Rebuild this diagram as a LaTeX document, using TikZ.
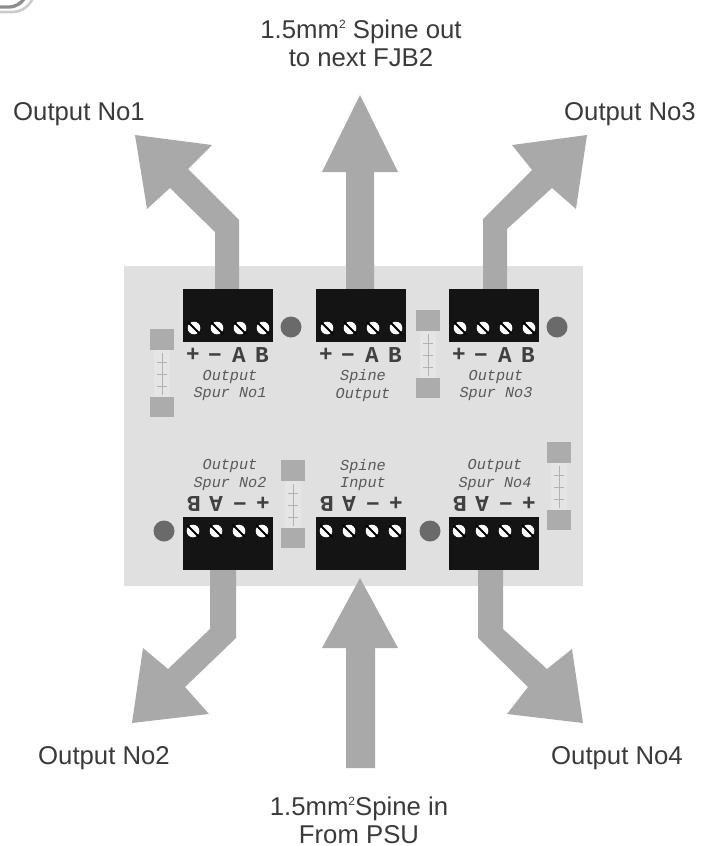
\documentclass[tikz,border=0pt]{standalone}
\usepackage{fontspec}
\setmainfont{Liberation Sans}
\setmonofont{Liberation Mono}
\definecolor{boardc}{HTML}{E0E0E0}
\definecolor{arrowc}{HTML}{A9A9A9}
\definecolor{capc}{HTML}{ACACAC}
\definecolor{dotc}{HTML}{6A6A6A}
\definecolor{txtc}{HTML}{3A3A3A}
\tikzset{
  flow/.style={fill=arrowc,draw=none},
  board/.style={fill=boardc,draw=none},
  block/.style={fill=black!92,draw=none},
  lbl/.style={font=\fontsize{19.3pt}{21pt}\selectfont,text=txtc,align=center,inner sep=0pt},
  term/.style={font=\ttfamily\bfseries\fontsize{17pt}{17pt}\selectfont,text=black!75,inner sep=0pt},
  small/.style={font=\ttfamily\itshape\fontsize{11.4pt}{13pt}\selectfont,text=black!65,align=center,inner sep=0pt},
}
\newcommand{\blockat}[2]{%
  \fill[block] (#1,#2) rectangle (#1+90,#2+53);
}
\newcommand{\screws}[2]{%
  \foreach \k in {0,1,2,3}{
    \fill[white] ({#1+\k*23},#2) circle (6.3);
    \draw[black,line width=1.5pt] ({#1+\k*23-6},{#2-6}) -- ({#1+\k*23+6},{#2+6});
  }
}
\newcommand{\fuse}[2]{%
  \fill[white!90!black] (#1+4,#2+20) rectangle (#1+20,#2+70);
  \draw[black!30,line width=.6pt] (#1+7,#2+33) -- (#1+17,#2+33) (#1+7,#2+45) -- (#1+17,#2+45) (#1+7,#2+57) -- (#1+17,#2+57) (#1+12,#2+24) -- (#1+12,#2+66);
  \fill[capc] (#1,#2) rectangle (#1+24,#2+21);
  \fill[capc] (#1,#2+68) rectangle (#1+24,#2+88);
}
\newcommand{\sqtwo}{\raisebox{7pt}{\fontsize{9pt}{9pt}\selectfont 2}}
\begin{document}
\begin{tikzpicture}[x=0.75pt,y=-0.75pt]
\useasboundingbox (0,0) rectangle (709,846);
\begin{scope}
\clip (0,0) rectangle (709,846);
\draw[black!45,line width=2.5pt,rounded corners=7pt] (-5,7) -- (19,7) -- (27,-6);
\draw[black!20,line width=2pt,rounded corners=8pt] (-5,12) -- (24,12) -- (34,-3);
\end{scope}
% board
\fill[board] (124,266) rectangle (583,586);
% flows
\fill[flow] (215,290) -- (215,232) -- (170,188) -- (147,209) -- (135,135) -- (212,145) -- (188,169) -- (239,220) -- (239,290) -- cycle;
\fill[flow] (346,290) -- (346,172) -- (322,172) -- (360,95) -- (398,172) -- (374,172) -- (374,290) -- cycle;
\fill[flow] (483,290) -- (483,219) -- (532,170) -- (512,145) -- (587,135) -- (576,209) -- (552,188) -- (507,229) -- (507,290) -- cycle;
\fill[flow] (210,569) -- (210,629) -- (168,669) -- (143,648) -- (132,723) -- (209,714) -- (185,687) -- (236,638) -- (236,569) -- cycle;
\fill[flow] (478,569) -- (478,638) -- (528,687) -- (507,714) -- (583,723) -- (572,649) -- (547,669) -- (503,629) -- (503,569) -- cycle;
\fill[flow] (360,578) -- (322,648) -- (346,648) -- (346,768) -- (375,768) -- (375,648) -- (398,648) -- cycle;
% terminal blocks
\blockat{183}{289}\blockat{316}{289}\blockat{449}{289}
\blockat{183}{517}\blockat{316}{517}\blockat{449}{517}
\screws{194}{328}\screws{327}{328}\screws{460}{328}
\screws{193}{531}\screws{326}{531}\screws{459}{531}
% dots
\foreach \x/\y in {291/327,557/327,164/531,430/531}{\fill[dotc] (\x,\y) circle (10.5);}
% fuses
\fuse{150}{329}\fuse{416}{310}\fuse{281}{460}\fuse{547}{442}
% terminal labels
\foreach \o in {0,133,266}{
  \node[term] (tp\o) at (193+\o,355) {+};
  \node[term] (tm\o) at (215+\o,358) {−};
  \node[term] (ta\o) at (239+\o,355) {A};
  \node[term] (tb\o) at (262+\o,355) {B};
  \node[term] (bb\o) at (194+\o,504) {\rotatebox{180}{B}};
  \node[term] (ba\o) at (216+\o,504) {\rotatebox{180}{A}};
  \node[term] (bm\o) at (240+\o,507) {−};
  \node[term] (bp\o) at (263+\o,504) {+};
}
\node[small] (s1) at (230,385.5) {Output\\Spur No1};
\node[small] (s2) at (363,385.5) {Spine\\Output};
\node[small] (s3) at (496,385.5) {Output\\Spur No3};
\node[small] (s4) at (230,475) {Output\\Spur No2};
\node[small] (s5) at (363,475) {Spine\\Input};
\node[small] (s6) at (495,475) {Output\\Spur No4};
% outer labels
\node[lbl] (l1) at (79,114) {Output No1};
\node[lbl] (l3) at (630,114) {Output No3};
\node[lbl] (l2) at (104,758) {Output No2};
\node[lbl] (l4) at (617,758) {Output No4};
\node[lbl] (l5) at (361,43) {1.5mm\sqtwo\ Spine out\\to next FJB2};
\node[lbl] (l6) at (359,820) {1.5mm\sqtwo Spine in\\From PSU};
\end{tikzpicture}
\end{document}
